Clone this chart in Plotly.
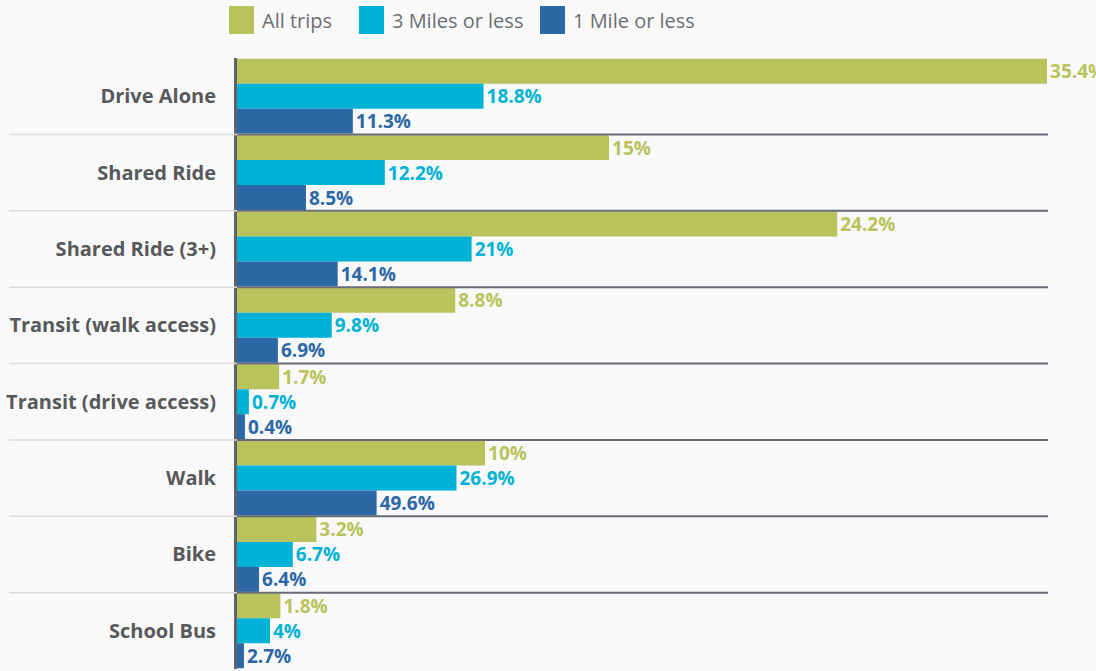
import plotly.graph_objects as go

# ---- data ----
categories = ["Drive Alone", "Shared Ride", "Shared Ride (3+)", "Transit (walk access)",
              "Transit (drive access)", "Walk", "Bike", "School Bus"]
series_names = ["All trips", "3 Miles or less", "1 Mile or less"]

# values printed on the labels
all_trips = [35.4, 15, 24.2, 8.8, 1.7, 10, 3.2, 1.8]
miles3 = [18.8, 12.2, 21, 9.8, 0.7, 26.9, 6.7, 4]
mile1 = [11.3, 8.5, 14.1, 6.9, 0.4, 49.6, 6.4, 2.7]

# bar lengths as drawn in the picture (same axis units)
all_trips_bar = [32.66, 15, 24.2, 8.8, 1.7, 10, 3.2, 1.75]
miles3_bar = [9.94, 5.96, 9.46, 3.82, 0.48, 8.85, 2.25, 1.33]
mile1_bar = [4.67, 2.78, 4.06, 1.65, 0.32, 5.63, 0.89, 0.28]

colors = ["#b8c35c", "#00b2d5", "#2b68a5"]
x_max = 32.7

# ---- layout geometry ----
W, H = 1096, 671
L, R, T, B = 237, 48, 58, 2
PW = W - L - R
PH = H - T - B


def px_x(px):
    return (px - L) / PW


def px_y(py):
    return 1 - (py - T) / PH


fig = go.Figure()
for name, vals, bars, col in zip(series_names, [all_trips, miles3, mile1],
                                 [all_trips_bar, miles3_bar, mile1_bar], colors):
    fig.add_trace(go.Bar(
        y=categories, x=bars, orientation="h", name=name,
        marker=dict(color=col, line=dict(width=0)),
        text=[f"{v:g}%" for v in vals], textposition="outside",
        textfont=dict(family="Open Sans", size=19, color=col, weight="bold"),
        constraintext="none", cliponaxis=False, textangle=0,
        showlegend=False, hoverinfo="skip",
    ))

shapes = []
for i in range(len(categories) - 1):
    y = i + 0.5
    shapes.append(dict(type="line", xref="paper", yref="y", x0=px_x(9), x1=0,
                       y0=y, y1=y, line=dict(color="#dcdcdc", width=1.5), layer="above"))
    shapes.append(dict(type="line", xref="paper", yref="y", x0=0, x1=1,
                       y0=y, y1=y, line=dict(color="#676b75", width=2), layer="above"))

# manual legend
annotations = []
legend_boxes = [229, 359, 540]
for name, col, bx in zip(series_names, colors, legend_boxes):
    shapes.append(dict(type="rect", xref="paper", yref="paper",
                       x0=px_x(bx), x1=px_x(bx + 25), y0=px_y(34), y1=px_y(6),
                       fillcolor=col, line=dict(width=0)))
    annotations.append(dict(xref="paper", yref="paper", x=px_x(bx + 31), y=px_y(20),
                            xanchor="left", yanchor="middle", text=name, showarrow=False,
                            font=dict(family="Open Sans", size=20, color="#6d6e71")))

fig.update_layout(
    width=W, height=H,
    margin=dict(l=L, r=R, t=T, b=B, pad=0),
    paper_bgcolor="#f9f9f9", plot_bgcolor="#f9f9f9",
    barmode="group", bargap=0.02, bargroupgap=0,
    shapes=shapes, annotations=annotations,
    xaxis=dict(range=[0, x_max], visible=False, showgrid=False, zeroline=False),
    yaxis=dict(autorange="reversed", showgrid=False, zeroline=False,
               showline=True, linecolor="#5f6369", linewidth=3,
               ticks="", ticklabelstandoff=14,
               tickfont=dict(family="Open Sans", size=20, color="#58595b", weight="bold")),
)

fig.write_html(
    "out.html",
    config={"displayModeBar": False},
    post_script="document.body.style.margin='0';document.body.style.background='#f9f9f9';",
)
